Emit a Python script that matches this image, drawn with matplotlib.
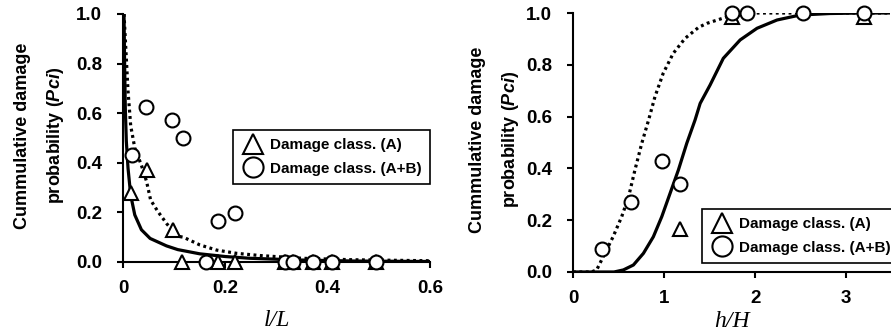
import matplotlib
matplotlib.use("Agg")
import matplotlib.pyplot as plt
from matplotlib.ticker import FormatStrFormatter

plt.rcParams['font.family'] = ['Liberation Sans', 'DejaVu Sans']
plt.rcParams['font.weight'] = 'bold'
plt.rcParams['mathtext.fontset'] = 'custom'
plt.rcParams['mathtext.it'] = 'Liberation Sans:italic:bold'
plt.rcParams['mathtext.rm'] = 'Liberation Sans:bold'

# ---- 左图: l/L ----
lL_a_x = [0.015, 0.046, 0.097, 0.115, 0.186, 0.219, 0.317, 0.333, 0.372, 0.408, 0.494]
lL_a_y = [0.28, 0.37, 0.13, 0.0, 0.0, 0.0, 0.0, 0.0, 0.0, 0.0, 0.0]
lL_ab_x = [0.017, 0.045, 0.096, 0.118, 0.186, 0.219, 0.163, 0.317, 0.333, 0.372, 0.408, 0.494]
lL_ab_y = [0.43, 0.626, 0.573, 0.501, 0.165, 0.199, 0.0, 0.0, 0.0, 0.0, 0.0, 0.0]

# 拟合曲线 (从图上读的点)
lL_fit_a_x = [0.002, 0.003, 0.0045, 0.0065, 0.0098, 0.015, 0.023, 0.036, 0.053, 0.085,
              0.107, 0.15, 0.2, 0.248, 0.346, 0.45, 0.6]
lL_fit_a_y = [1.0, 0.82, 0.62, 0.487, 0.379, 0.27, 0.19, 0.13, 0.095, 0.065,
              0.05, 0.033, 0.022, 0.015, 0.008, 0.004, 0.002]
lL_fit_ab_x = [0.002, 0.0065, 0.0098, 0.015, 0.023, 0.036, 0.046, 0.054, 0.068, 0.086,
               0.107, 0.118, 0.15, 0.183, 0.222, 0.268, 0.35, 0.45, 0.6]
lL_fit_ab_y = [1.0, 0.82, 0.69, 0.55, 0.46, 0.39, 0.325, 0.25, 0.204, 0.153,
               0.104, 0.100, 0.069, 0.048, 0.035, 0.026, 0.015, 0.009, 0.005]

# ---- 右图: h/H ----
hH_a_x = [1.18, 1.75, 3.20]
hH_a_y = [0.165, 0.985, 0.985]
hH_ab_x = [0.32, 0.64, 0.98, 1.18, 1.75, 1.91, 2.53, 3.20]
hH_ab_y = [0.09, 0.27, 0.43, 0.34, 1.0, 1.0, 1.0, 1.0]

hH_fit_a_x = [0.0, 0.45, 0.553, 0.663, 0.773, 0.882, 0.975, 1.066, 1.157, 1.249, 1.34,
              1.396, 1.505, 1.65, 1.835, 2.02, 2.24, 2.49, 2.82, 3.2, 3.5]
hH_fit_a_y = [0.0, 0.0, 0.008, 0.027, 0.072, 0.136, 0.214, 0.304, 0.394, 0.497, 0.587,
              0.651, 0.722, 0.825, 0.896, 0.941, 0.973, 0.992, 0.998, 1.0, 1.0]
hH_fit_ab_x = [0.0, 0.2, 0.26, 0.35, 0.44, 0.535, 0.61, 0.68, 0.755, 0.83, 0.90, 0.99,
               1.10, 1.23, 1.38, 1.47, 1.69, 2.02, 2.5, 3.5]
hH_fit_ab_y = [0.0, 0.0, 0.008, 0.072, 0.136, 0.214, 0.29, 0.394, 0.497, 0.587, 0.677, 0.767,
               0.844, 0.902, 0.945, 0.96, 0.985, 1.0, 1.0, 1.0]

LEGEND_A = 'Damage class. (A)'
LEGEND_AB = 'Damage class. (A+B)'
YLABEL = 'Cummulative damage\nprobability ($Pci$)'


def style_axes(ax, label_x):
    for s in ['top', 'right']:
        ax.spines[s].set_visible(False)
    for s in ['left', 'bottom']:
        ax.spines[s].set_linewidth(1.5)
    ax.tick_params(direction='out', length=4, width=1.5, pad=11, labelsize=13.5)
    ax.set_ylim(0, 1.0)
    ax.set_yticks([0, 0.2, 0.4, 0.6, 0.8, 1.0])
    ax.yaxis.set_major_formatter(FormatStrFormatter('%.1f'))
    ax.set_ylabel(YLABEL, fontsize=13, fontweight='bold', linespacing=1.9)
    ax.yaxis.set_label_coords(label_x, 0.51)


def draw_panel(ax, fa_x, fa_y, fab_x, fab_y, a_x, a_y, ab_x, ab_y):
    ax.plot(fa_x, fa_y, color='black', lw=2.3, solid_joinstyle='round', zorder=2)
    ax.plot(fab_x, fab_y, color='black', lw=2.3, linestyle=(0, (0.9, 1.1)), zorder=2)
    ax.plot(a_x, a_y, linestyle='none', marker='^', ms=10, mfc='white', mec='black',
            mew=1.5, clip_on=False, zorder=3, label=LEGEND_A)
    ax.plot(ab_x, ab_y, linestyle='none', marker='o', ms=10, mfc='white', mec='black',
            mew=1.5, clip_on=False, zorder=4, label=LEGEND_AB)


def make_legend(ax, x, y):
    leg = ax.legend(loc='upper left', bbox_to_anchor=(x, y), borderaxespad=0,
                    fancybox=False, edgecolor='black', framealpha=1, markerscale=1.45,
                    handlelength=1.5, handletextpad=0.35, borderpad=0.55,
                    labelspacing=0.6, prop={'size': 11, 'weight': 'bold'})
    leg.get_frame().set_linewidth(1.2)


def main():
    fig = plt.figure(figsize=(8.91, 3.32), dpi=100)

    ax1 = fig.add_axes([123 / 891, 70 / 332, 307 / 891, 248 / 332])
    draw_panel(ax1, lL_fit_a_x, lL_fit_a_y, lL_fit_ab_x, lL_fit_ab_y,
               lL_a_x, lL_a_y, lL_ab_x, lL_ab_y)
    style_axes(ax1, -0.186)
    ax1.set_xlim(0, 0.6)
    ax1.set_xticks([0, 0.2, 0.4, 0.6])
    ax1.set_xticklabels(['0', '0.2', '0.4', '0.6'])
    ax1.tick_params(axis='x', pad=9)
    ax1.set_xlabel('l/L', family='Liberation Serif', style='italic', fontweight='normal',
                   fontsize=17, labelpad=9)
    make_legend(ax1, 0.358, 0.532)

    ax2 = fig.add_axes([573 / 891, 60 / 332, 317 / 891, 259 / 332])
    draw_panel(ax2, hH_fit_a_x, hH_fit_a_y, hH_fit_ab_x, hH_fit_ab_y,
               hH_a_x, hH_a_y, hH_ab_x, hH_ab_y)
    style_axes(ax2, -0.165)
    ax2.set_xlim(0, 3.48)
    ax2.set_xticks([0, 1, 2, 3])
    ax2.tick_params(axis='x', pad=9)
    ax2.set_xlabel('h/H', family='Liberation Serif', style='italic', fontweight='normal',
                   fontsize=17, labelpad=3)
    make_legend(ax2, 0.407, 0.243)

    fig.savefig('out.png', dpi=100)


if __name__ == "__main__":
    main()
